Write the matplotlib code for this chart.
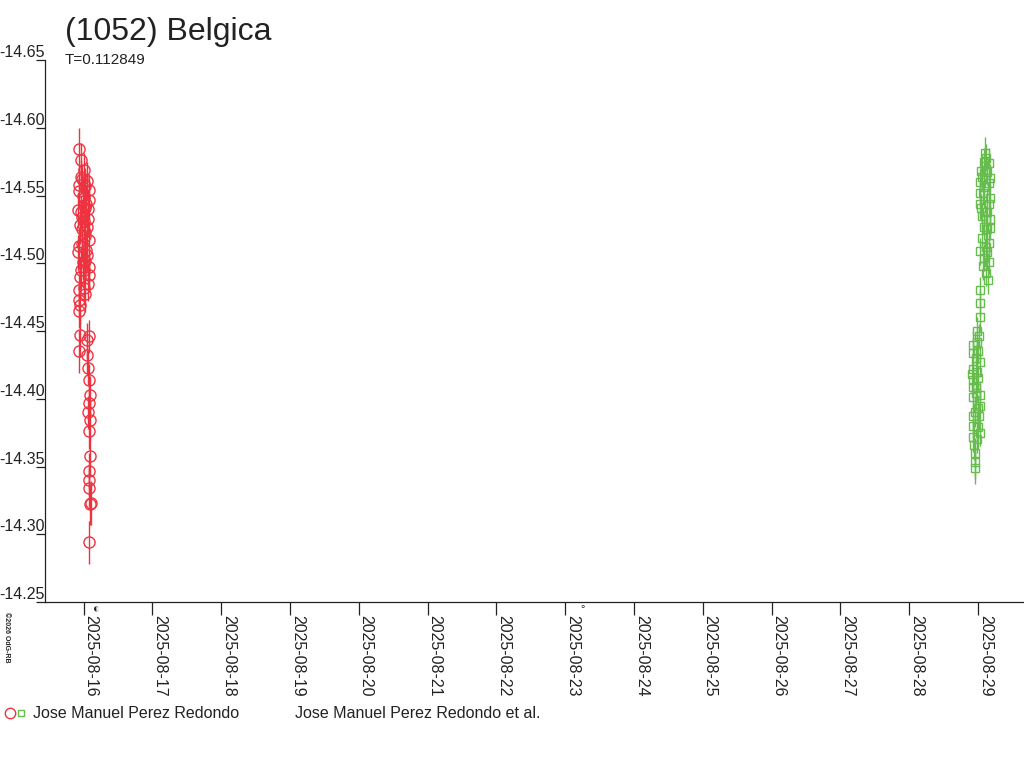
import numpy as np
import matplotlib
matplotlib.use('Agg')
import matplotlib.pyplot as plt
import matplotlib.dates as mdates
from matplotlib.lines import Line2D
from matplotlib.legend_handler import HandlerTuple
from matplotlib.ticker import FormatStrFormatter
from datetime import datetime

plt.rcParams['font.family'] = ['Liberation Sans', 'DejaVu Sans']
plt.rcParams['axes.unicode_minus'] = False

# observation times, day of August 2025 (UT)
red_t = [15.927, 15.966, 15.971, 16.015, 15.937, 16.073, 15.913, 16.058, 15.985, 16.044,
         15.913, 16.029, 16.073, 15.942, 16.058, 15.937, 15.942, 15.937, 15.952, 16.073,
         15.937, 16.044, 16.044, 16.058, 16.073, 16.087, 16.073, 16.058, 16.087, 16.073,
         16.087, 16.073, 16.073, 16.073, 16.102, 16.087, 16.073,
         16.000, 16.015, 16.000, 16.015, 15.985, 16.015, 16.000, 15.971, 16.000,
         15.964, 16.007, 16.051, 15.934, 16.080, 15.993, 16.036, 15.964, 16.066, 15.949,
         16.022, 16.080, 15.934, 16.051, 15.993, 15.964, 16.080, 16.022, 15.934]
red_mag = [-14.584, -14.564, -14.562, -14.557, -14.553, -14.547, -14.539, -14.540, -14.534, -14.527,
           -14.508, -14.510, -14.497, -14.490, -14.485, -14.480, -14.469, -14.465, -14.447, -14.446,
           -14.435, -14.443, -14.432, -14.423, -14.414, -14.403, -14.397, -14.390, -14.384, -14.376,
           -14.358, -14.347, -14.340, -14.334, -14.323, -14.322, -14.294,
           -14.548, -14.541, -14.531, -14.520, -14.514, -14.502, -14.495, -14.525, -14.482,
           -14.576, -14.569, -14.561, -14.558, -14.554, -14.550, -14.544, -14.538, -14.533, -14.528,
           -14.523, -14.517, -14.513, -14.506, -14.501, -14.495, -14.491, -14.477, -14.473]
red_err = [0.016, 0.012, 0.011, 0.013, 0.012, 0.014, 0.013, 0.015, 0.012, 0.014,
           0.013, 0.012, 0.015, 0.014, 0.013, 0.012, 0.014, 0.013, 0.016, 0.012,
           0.016, 0.013, 0.014, 0.013, 0.012, 0.014, 0.013, 0.012, 0.015, 0.013,
           0.014, 0.013, 0.012, 0.014, 0.016, 0.015, 0.016,
           0.012, 0.013, 0.012, 0.014, 0.013, 0.012, 0.013, 0.012, 0.013,
           0.013, 0.012, 0.014, 0.013, 0.012, 0.013, 0.014, 0.012, 0.013, 0.014,
           0.012, 0.013, 0.014, 0.012, 0.013, 0.014, 0.012, 0.013, 0.014]

grn_t = [29.102, 29.087, 29.160, 29.044, 29.131, 29.029, 29.160, 29.029, 29.073, 29.175,
         29.029, 29.160, 29.058, 29.117, 29.175, 29.131, 29.160, 29.029, 29.131, 29.073,
         29.146, 29.029, 29.029, 29.029, 28.985, 29.015, 28.927, 28.985, 28.927, 29.000,
         28.927, 28.985, 28.927, 29.000, 28.927, 28.971, 29.029, 28.927, 29.000, 28.927,
         29.015, 28.927, 29.000, 28.927, 28.985, 28.956, 28.956, 28.956,
         29.117, 29.058, 29.175, 29.087, 29.044, 29.131, 29.087, 29.175, 29.058, 29.117,
         29.087, 29.160, 29.117, 28.971, 29.029, 28.913, 28.971, 29.029, 28.956, 29.029,
         28.942]
grn_mag = [-14.581, -14.575, -14.574, -14.568, -14.567, -14.560, -14.559, -14.552, -14.552, -14.548,
           -14.544, -14.544, -14.535, -14.533, -14.533, -14.525, -14.515, -14.509, -14.508, -14.498,
           -14.488, -14.480, -14.471, -14.460, -14.450, -14.446, -14.440, -14.442, -14.434, -14.435,
           -14.422, -14.420, -14.414, -14.415, -14.409, -14.404, -14.403, -14.401, -14.393, -14.387,
           -14.387, -14.380, -14.379, -14.372, -14.370, -14.360, -14.353, -14.349,
           -14.578, -14.564, -14.563, -14.556, -14.541, -14.538, -14.527, -14.526, -14.519, -14.512,
           -14.504, -14.501, -14.493, -14.430, -14.427, -14.418, -14.408, -14.395, -14.390, -14.375,
           -14.366]
grn_err = [0.012, 0.010, 0.011, 0.010, 0.009, 0.010, 0.011, 0.010, 0.009, 0.010,
           0.011, 0.010, 0.010, 0.009, 0.010, 0.011, 0.010, 0.010, 0.009, 0.010,
           0.011, 0.010, 0.010, 0.011, 0.010, 0.009, 0.010, 0.011, 0.010, 0.009,
           0.010, 0.011, 0.010, 0.009, 0.010, 0.011, 0.010, 0.009, 0.010, 0.011,
           0.010, 0.009, 0.010, 0.011, 0.010, 0.011, 0.012, 0.012,
           0.010, 0.011, 0.010, 0.009, 0.010, 0.011, 0.010, 0.009, 0.010, 0.011,
           0.010, 0.009, 0.010, 0.010, 0.011, 0.010, 0.009, 0.010, 0.011, 0.010,
           0.011]

tick_days = list(range(16, 30))
tick_labels = ['2025-08-%02d' % d for d in tick_days]
moon_days = [16.17, 23.25]
moon_marks = ['\u25d0', '\u00b0']

red = '#ee3340'
green = '#66bd4e'
ink = '#222222'

aug0 = mdates.date2num(datetime(2025, 8, 1)) - 1


def to_num(days):
    return aug0 + np.asarray(days, dtype=float)


fig = plt.figure(figsize=(10.24, 7.68), dpi=100)
ax = fig.add_axes([45 / 1024, 166 / 768, 979 / 1024, 542 / 768])

ax.errorbar(to_num(red_t), red_mag, yerr=red_err, fmt='o', ms=8, mfc='none',
            mec=red, mew=1, ecolor=red, elinewidth=1, capsize=0)
ax.errorbar(to_num(grn_t), grn_mag, yerr=grn_err, fmt='s', ms=6, mfc='none',
            mec=green, mew=1, ecolor=green, elinewidth=1, capsize=0)

ax.set_xlim(to_num(15.44), to_num(29.67))
ax.set_ylim(-14.25, -14.65)
ax.set_yticks(np.arange(-14.65, -14.249, 0.05))
ax.yaxis.set_major_formatter(FormatStrFormatter('%.2f'))
ax.set_xticks(to_num(tick_days), labels=tick_labels)

for side in ['top', 'right']:
    ax.spines[side].set_visible(False)
for side in ['left', 'bottom']:
    ax.spines[side].set_color(ink)
    ax.spines[side].set_linewidth(0.9)

ax.tick_params(axis='y', direction='out', length=6.5, width=0.9, pad=-6.5,
               labelsize=11.5, colors=ink)
ax.tick_params(axis='x', direction='out', length=9, width=0.9, pad=0.5,
               labelsize=11.5, colors=ink, labelrotation=-90)
plt.setp(ax.get_yticklabels(), ha='right', va='bottom')
plt.setp(ax.get_xticklabels(), ha='left', va='top')

# moon phase marks just under the time axis
for d, s in zip(moon_days, moon_marks):
    ax.annotate(s, xy=(to_num(d), 0), xycoords=('data', 'axes fraction'),
                xytext=(0, -1.5), textcoords='offset points', ha='center', va='top',
                fontsize=8, color=ink, annotation_clip=False)

fig.text(65 / 1024, 1 - 40 / 768, '(1052) Belgica', fontsize=23, color=ink,
         ha='left', va='baseline')
fig.text(65 / 1024, 1 - 64 / 768, 'T=0.112849', fontsize=11, color=ink,
         ha='left', va='baseline')
fig.text(3 / 1024, 1 - 612 / 768, '\u00a92026 OdG-RB', fontsize=5, fontweight='bold',
         rotation=-90, color=ink, ha='left', va='top')

h_red = Line2D([], [], marker='o', ls='none', ms=7.5, mfc='none', mec=red, mew=1)
h_grn = Line2D([], [], marker='s', ls='none', ms=5, mfc='none', mec=green, mew=1)
h_blank = Line2D([], [], ls='none')
fig.legend(handles=[(h_red, h_grn), h_blank],
           labels=['Jose Manuel Perez Redondo', 'Jose Manuel Perez Redondo et al.'],
           handler_map={tuple: HandlerTuple(ndivide=None, pad=0)},
           loc='center left', bbox_to_anchor=(4 / 1024, 1 - 714 / 768), ncol=2,
           frameon=False, fontsize=11.5, labelcolor=ink, borderpad=0, borderaxespad=0,
           handlelength=1.4, handletextpad=0.4, columnspacing=1.7)

fig.savefig('out.png', dpi=100)
